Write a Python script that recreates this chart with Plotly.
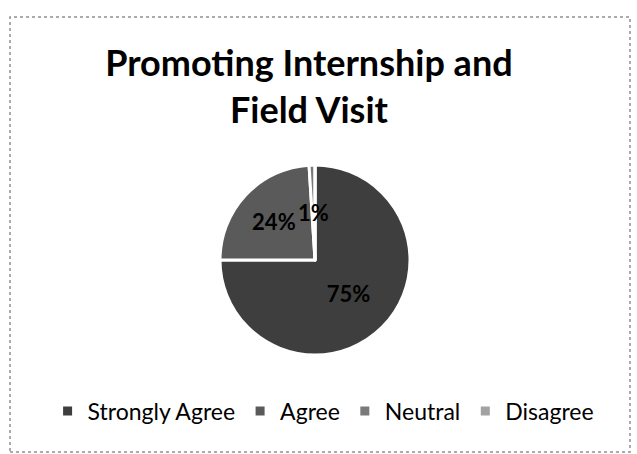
import plotly.graph_objects as go
import math

categories = ["Strongly Agree", "Agree", "Neutral", "Disagree"]
values = [75, 24, 1, 0]
colors = ["#3e3e3e", "#5a5a5a", "#7a7a7a", "#a2a2a2"]
title_text = "Promoting Internship and<br>Field Visit"

W, H = 637, 454
cx, cy, R = 315, 260, 95

dom_x = [(cx - R) / W, (cx + R) / W]
dom_y = [1 - (cy + R) / H, 1 - (cy - R) / H]

total = sum(values)
templates = []
positions = []
for v in values:
    if v / total >= 0.05:
        templates.append("%{percent:.0%}")
        positions.append("inside")
    else:
        templates.append("")
        positions.append("none")

label_font = dict(family="Lato", size=22, color="black", weight="bold")

fig = go.Figure(go.Pie(
    labels=categories,
    values=values,
    sort=False,
    direction="clockwise",
    rotation=0,
    marker=dict(colors=colors, line=dict(color="white", width=3)),
    texttemplate=templates,
    textposition=positions,
    insidetextorientation="horizontal",
    textfont=label_font,
    domain=dict(x=dom_x, y=dom_y),
    showlegend=True,
    hoverinfo="label+percent",
))

# small-slice labels placed at half radius on the slice mid-angle
cum = 0
annotations = []
for v in values:
    frac = v / total
    if 0 < frac < 0.05:
        ang = (cum + frac / 2) * 2 * math.pi
        px = cx + 0.5 * R * math.sin(ang)
        py = cy - 0.5 * R * math.cos(ang)
        annotations.append(dict(
            x=px / W, y=1 - py / H, xref="paper", yref="paper",
            text=f"{round(frac * 100)}%", showarrow=False,
            font=label_font,
        ))
    cum += frac

fig.update_layout(
    width=W, height=H,
    margin=dict(l=0, r=0, t=0, b=0),
    paper_bgcolor="white",
    plot_bgcolor="white",
    title=dict(
        text=title_text, x=0.485, xanchor="center", y=1 - 76 / H, yanchor="middle",
        font=dict(family="Lato", size=36, color="black", weight="bold"),
    ),
    legend=dict(
        orientation="h", x=0.508, xanchor="center", y=1 - 411 / H, yanchor="middle",
        font=dict(family="Lato", size=23, color="black"),
        itemwidth=30, traceorder="normal",
    ),
    annotations=annotations,
    shapes=[dict(type="rect", xref="paper", yref="paper",
                 x0=10 / W, x1=630 / W, y0=1 - 452 / H, y1=1 - 17 / H,
                 line=dict(color="#909090", width=1.5, dash="dot"))],
)

fig.write_html("out.html", config={"displayModeBar": False},
               post_script="document.body.style.margin='0';")
